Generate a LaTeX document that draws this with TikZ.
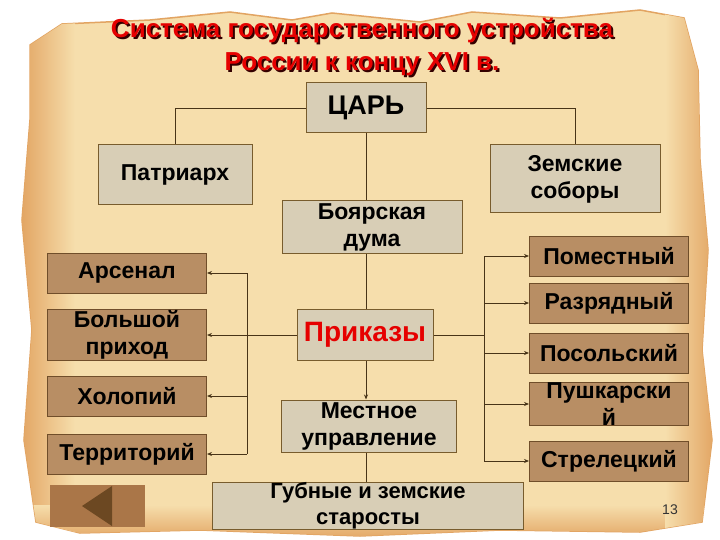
\documentclass[tikz,border=0pt]{standalone}
\usepackage{fontspec}
\setmainfont{Liberation Sans}
\usetikzlibrary{arrows.meta}

\definecolor{paper}{RGB}{246,222,172}
\definecolor{paperedge}{RGB}{226,164,98}
\definecolor{stonefill}{RGB}{216,206,182}
\definecolor{stoneline}{RGB}{120,92,45}
\definecolor{clayfill}{RGB}{184,142,100}
\definecolor{clayline}{RGB}{112,78,42}
\definecolor{linkcol}{RGB}{72,52,24}
\definecolor{titlered}{RGB}{230,0,0}
\definecolor{btnfill}{RGB}{170,118,72}
\definecolor{btnmark}{RGB}{108,72,34}

\tikzset{
  stone/.style={draw=stoneline, line width=1pt, fill=stonefill, align=center,
    inner sep=0pt, font=\bfseries\fontsize{23}{27}\selectfont},
  clay/.style={draw=clayline, line width=1pt, fill=clayfill, align=center,
    inner sep=0pt, minimum width=159pt, font=\bfseries\fontsize{23}{27}\selectfont},
  link/.style={draw=linkcol, line width=0.8pt},
  >={Stealth[length=5pt,width=4pt]},
}

\begin{document}
\begin{tikzpicture}[x=1pt,y=-1pt]
    \useasboundingbox (0,0) rectangle (720,540);
    \fill[white] (0,0) rectangle (720,540);

    % Parchment
    \path[fill=paper, draw=paperedge, line width=1.5pt]
      (30,45) -- (62,24) -- (150,20) -- (230,12) -- (292,20) -- (332,13)
      -- (420,22) -- (472,12) -- (560,18) -- (640,10) -- (684,18)
      -- (698,70) -- (700,160) -- (708,250) -- (702,350) -- (712,440)
      -- (702,522) -- (640,532) -- (500,530) -- (360,536) -- (200,530)
      -- (80,533) -- (36,522) -- (24,440) -- (32,330) -- (22,220) -- (30,120) -- cycle;
    \begin{scope}
      \clip (30,45) -- (62,24) -- (150,20) -- (230,12) -- (292,20) -- (332,13)
        -- (420,22) -- (472,12) -- (560,18) -- (640,10) -- (684,18)
        -- (698,70) -- (700,160) -- (708,250) -- (702,350) -- (712,440)
        -- (702,522) -- (640,532) -- (500,530) -- (360,536) -- (200,530)
        -- (80,533) -- (36,522) -- (24,440) -- (32,330) -- (22,220) -- (30,120) -- cycle;
      \shade[left color=paperedge, right color=paper] (20,0) rectangle (75,540);
      \shade[top color=paper, bottom color=paperedge] (0,505) rectangle (720,540);
      \shade[left color=paper, right color=paperedge] (665,0) rectangle (715,540);
    \end{scope}

    % Title
    \node[text=black!80!red, font=\bfseries\fontsize{26}{33}\selectfont, align=center]
      (titleshadow) at (364,49.5) {Система государственного устройства\\России к концу XVI в.};
    \node[text=titlered, font=\bfseries\fontsize{26}{33}\selectfont, align=center]
      (title) at (362,47.5) {Система государственного устройства\\России к концу XVI в.};

    % Bus lines for the prikazy
    \coordinate (lbus) at (247,0);
    \coordinate (rbus) at (484,0);

    % Top level
    \node[stone, minimum width=120pt, minimum height=50pt, font=\bfseries\fontsize{27}{30}\selectfont]
      (tsar) at (366,108) {ЦАРЬ};
    \node[stone, minimum width=154pt, minimum height=60pt] (patr) at (175,175) {Патриарх};
    \node[stone, minimum width=170pt, minimum height=68pt] (sobor) at (575,179) {Земские\\соборы};
    \node[stone, minimum width=180pt, minimum height=52pt] (duma) at (372,227) {Боярская\\дума};
    \node[stone, minimum width=136pt, minimum height=51pt, text=titlered,
      font=\bfseries\fontsize{28}{30}\selectfont] (prikaz) at (365,335) {Приказы};
    \node[stone, minimum width=175pt, minimum height=52pt] (mestn) at (369,426) {Местное\\управление};
    \node[stone, minimum width=311pt, minimum height=42pt, font=\bfseries\fontsize{22}{26}\selectfont]
      (gubn) at (368,506) {Губные и земские\\старосты};

    % Left prikazy
    \node[clay, minimum height=40pt] (arsenal) at (127,273) {Арсенал};
    \node[clay, minimum height=51pt] (bolsh) at (127,335) {Большой\\приход};
    \node[clay, minimum height=40pt] (holop) at (127,396) {Холопий};
    \node[clay, minimum height=40pt] (territ) at (127,454) {Территорий};

    % Right prikazy
    \node[clay, minimum height=40pt] (pomest) at (609,256) {Поместный};
    \node[clay, minimum height=40pt] (razr) at (609,303) {Разрядный};
    \node[clay, minimum height=40pt] (posol) at (609,353) {Посольский};
    \node[clay, minimum height=40pt] (pushk) at (609,404) {Пушкарски\\й};
    \node[clay, minimum height=40pt] (strel) at (609,461) {Стрелецкий};

    % Links
    \draw[link] (tsar.west) -| (patr.north);
    \draw[link] (tsar.east) -| (sobor.north);
    \draw[link] (tsar.south -| 366,0) -- (366,0 |- duma.north);
    \draw[link] (366,0 |- duma.south) -- (366,0 |- prikaz.north);
    \draw[link,->] (366,0 |- prikaz.south) -- (366,0 |- mestn.north);
    \draw[link] (366,0 |- mestn.south) -- (366,0 |- gubn.north);

    \draw[link,->] (prikaz.west) -- (bolsh.east);
    \draw[link] (lbus |- arsenal) -- (lbus |- territ);
    \draw[link,->] (lbus |- arsenal) -- (arsenal.east);
    \draw[link,->] (lbus |- holop) -- (holop.east);
    \draw[link,->] (lbus |- territ) -- (territ.east);

    \draw[link] (prikaz.east) -- (prikaz.east -| rbus);
    \draw[link] (rbus |- pomest) -- (rbus |- strel);
    \foreach \n in {pomest,razr,posol,pushk,strel}
      \draw[link,->] (rbus |- \n) -- (\n.west);

    % Back button and page number
    \node[fill=btnfill, minimum width=95pt, minimum height=42pt, inner sep=0pt] (back) at (97,506) {};
    \fill[btnmark] (back.center) ++(-15,0) -- ++(30,-20) -- ++(0,40) -- cycle;
    \node[text=black!80, font=\fontsize{14}{16}\selectfont] (pagenum) at (670,510) {13};
\end{tikzpicture}
\end{document}
